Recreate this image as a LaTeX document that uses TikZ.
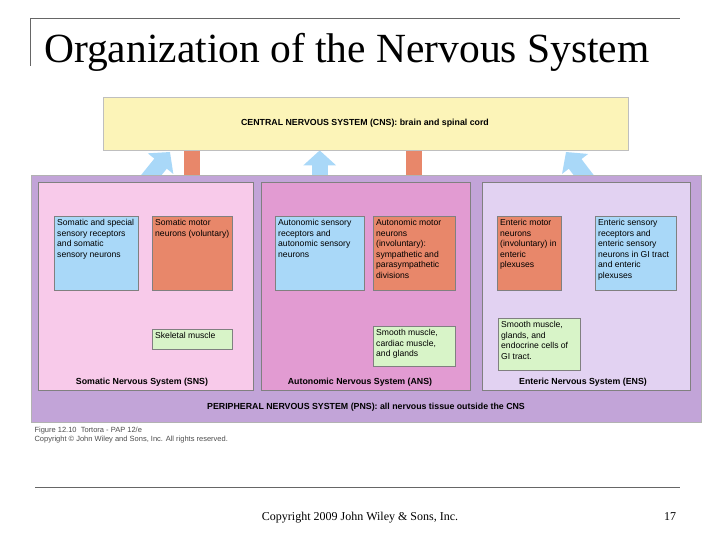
\documentclass[tikz,border=0pt]{standalone}
\usepackage{fontspec}
\setmainfont{Liberation Serif}
\newfontfamily\diag{Liberation Sans}
\usetikzlibrary{arrows.meta}
\pgfdeclarelayer{back}
\pgfsetlayers{back,main}

\definecolor{cnsyel}{HTML}{FCF4B8}
\definecolor{pnsvio}{HTML}{C2A4D8}
\definecolor{snspink}{HTML}{F8CAEA}
\definecolor{ansmag}{HTML}{E29BD2}
\definecolor{enslav}{HTML}{E2D2F2}
\definecolor{nblue}{HTML}{A9D8F8}
\definecolor{norg}{HTML}{E8876A}
\definecolor{ngrn}{HTML}{D8F4C8}

\newcommand{\bxtext}[3]{\parbox[t][#2][t]{#1}{\raggedright #3}}

\begin{document}
\begin{tikzpicture}[x=1pt,y=-1pt,
        bxpns/.style={fill=pnsvio,draw=black!30},
        bxsns/.style={fill=snspink,draw=black!50},
        bxans/.style={fill=ansmag,draw=black!50},
        bxens/.style={fill=enslav,draw=black!50},
        bxtxt/.style={draw=black!50,anchor=north west,inner sep=3pt,font=\diag\fontsize{8.6}{10.6}\selectfont},
        bxblue/.style={bxtxt,fill=nblue},
        bxorg/.style={bxtxt,fill=norg},
        bxgrn/.style={bxtxt,fill=ngrn},
        lbl/.style={font=\diag\bfseries\fontsize{8.8}{10}\selectfont},
        arblue/.style={line width=16pt,nblue,-{Triangle[length=15pt,width=32pt]}},
        arorg/.style={line width=16pt,norg,-{Triangle[length=15pt,width=32pt]}}
      ]
      \useasboundingbox (0,0) rectangle (720,540);

      % slide frame and title
      \draw[black!60,thick] (30,18) -- (680,18);
      \draw[black!60,thick] (30,18) -- (30,66);
      \draw[black!60,thick] (35,487) -- (680,487);
      \node[anchor=west,font=\fontsize{41.5}{44}\selectfont,inner sep=0pt] (title) at (44,52) {Organization of the Nervous System};
      \node[font=\fontsize{12}{14}\selectfont] (copy) at (360,518) {Copyright 2009 John Wiley \& Sons, Inc.};
      \node[font=\fontsize{12}{14}\selectfont] (page) at (670,517) {17};

      % regions
      \draw[bxpns] (31,175) rectangle (701,422);
      \draw[bxsns] (38,182) rectangle (253,390);
      \draw[bxans] (261,182) rectangle (470,390);
      \draw[bxens] (482,182) rectangle (690,390);
      \node[draw=black!25,fill=cnsyel,minimum width=525pt,minimum height=53pt,anchor=north west] (cns) at (103,97) {};
      \node[lbl] (cnslbl) at (365,123) {CENTRAL NERVOUS SYSTEM (CNS): brain and spinal cord};
      \node[lbl] (pnslbl) at (366,407) {PERIPHERAL NERVOUS SYSTEM (PNS): all nervous tissue outside the CNS};
      \node[lbl] (snslbl) at (142,382) {Somatic Nervous System (SNS)};
      \node[lbl] (anslbl) at (360,382) {Autonomic Nervous System (ANS)};
      \node[lbl] (enslbl) at (583,382) {Enteric Nervous System (ENS)};

      % boxes
      \node[bxblue] (ssens) at (54,216) {\bxtext{78pt}{68pt}{Somatic and special sensory receptors and somatic sensory neurons}};
      \node[bxorg]  (smot)  at (152,216) {\bxtext{74pt}{68pt}{Somatic motor neurons (voluntary)}};
      \node[bxgrn]  (skel)  at (152,329) {\bxtext{74pt}{14pt}{Skeletal muscle}};
      \node[bxblue] (asens) at (275,216) {\bxtext{83pt}{68pt}{Autonomic sensory receptors and autonomic sensory neurons}};
      \node[bxorg]  (amot)  at (373,216) {\bxtext{76pt}{68pt}{Autonomic motor neurons (involuntary): sympathetic and parasympathetic divisions}};
      \node[bxgrn]  (asmo)  at (373,326) {\bxtext{76pt}{34pt}{Smooth muscle, cardiac muscle, and glands}};
      \node[bxorg]  (emot)  at (497,216) {\bxtext{58pt}{68pt}{Enteric motor neurons (involuntary) in enteric plexuses}};
      \node[bxblue] (esens) at (595,216) {\bxtext{75pt}{68pt}{Enteric sensory receptors and enteric sensory neurons in GI tract and enteric plexuses}};
      \node[bxgrn]  (esmo)  at (498,318) {\bxtext{76pt}{46pt}{Smooth muscle, glands, and endocrine cells of GI tract.}};

      % arrows, behind the boxes
      \begin{pgfonlayer}{back}
      \coordinate (sin) at (170,152);
      \coordinate (ein) at (566,152);
      \draw[arblue] (ssens.center) ++(0,-10) -- (sin);
      \draw[arorg] (cns.south -| smot.north) -- (smot.north);
      \draw[arorg] (smot.south) -- (skel.north);
      \draw[arblue] (asens.north) -- (asens.north |- cns.south);
      \draw[arorg] (cns.south -| amot.north) -- (amot.north);
      \draw[arorg] (amot.south) -- (asmo.north);
      \draw[arorg] (amot.east) -- (emot.west);
      \draw[arblue] (esens.west) -- (emot.east);
      \draw[arorg] (emot.south) -- (emot.south |- esmo.north);
      \draw[arblue] (esens.center) ++(0,-10) -- (ein);
      \end{pgfonlayer}

      \node[anchor=north west,font=\diag\fontsize{7.5}{9}\selectfont,align=left,text=black!70] (fig) at (31,424) {Figure 12.10 \ Tortora - PAP 12/e\\Copyright \textcopyright\ John Wiley and Sons, Inc. All rights reserved.};
    \end{tikzpicture}
\end{document}
